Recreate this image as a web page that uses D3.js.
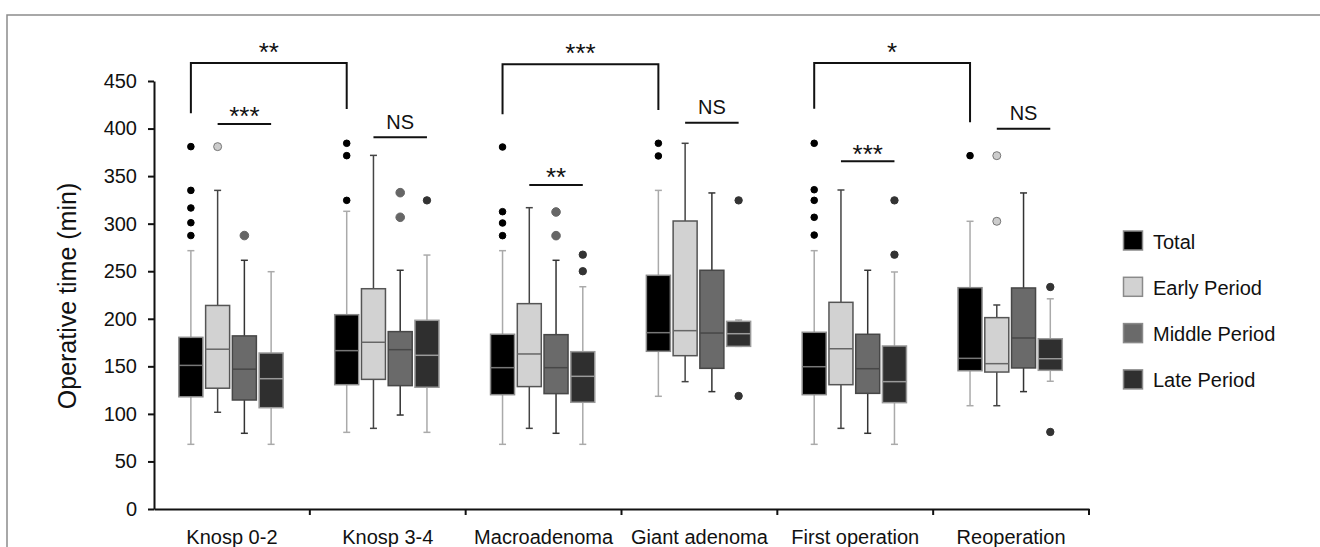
<!DOCTYPE html>
<html>
<head>
<meta charset="utf-8">
<script src="https://cdn.jsdelivr.net/npm/d3@7"></script>
<style>
  body { margin: 0; background: #fff; }
  text { font-family: "Liberation Sans", Arial, sans-serif; fill: #111; }
</style>
</head>
<body>
<div id="chart"></div>
<script>
var categories = ["Knosp 0-2", "Knosp 3-4", "Macroadenoma", "Giant adenoma", "First operation", "Reoperation"];
var series = ["Total", "Early Period", "Middle Period", "Late Period"];
var yTicks = [0, 50, 100, 150, 200, 250, 300, 350, 400, 450];

// rows = categories, columns = series
var whiskerLow = [
    [68, 101.7, 79.6, 68],
    [80.6, 84.8, 98.8, 80.6],
    [68, 84.8, 79.6, 68],
    [118.5, 133.9, 123.4, 171],
    [68, 84.8, 79.6, 68],
    [108.6, 108.6, 123.4, 134.3]
];
var q1 = [
    [118, 127, 114.6, 106.5],
    [130.7, 136.3, 129.7, 128],
    [120.2, 128.7, 121.3, 112.2],
    [165.8, 161.2, 147.9, 171],
    [120.2, 130.7, 121.6, 111.8],
    [145.4, 144, 148.3, 145.8]
];
var median = [
    [151, 168, 147, 137],
    [166.5, 175.3, 167.5, 161.6],
    [148.6, 163, 148.6, 139.5],
    [185.4, 187.5, 185, 184.3],
    [149.6, 168.5, 147.5, 133.9],
    [158.4, 152.8, 179.8, 158]
];
var q3 = [
    [180.5, 214, 182, 164],
    [204.3, 231.6, 186.5, 198.4],
    [183.7, 215.9, 183.3, 165.4],
    [245.7, 302.8, 251, 197.3],
    [185.8, 217.3, 183.7, 171.4],
    [232.7, 201.2, 232.4, 179]
];
var whiskerHigh = [
    [271.6, 335, 261.5, 249.5],
    [313, 371.8, 251, 267],
    [271.6, 316.8, 261.5, 233.7],
    [335, 384.5, 332.3, 198.7],
    [271.6, 335.4, 251, 249.2],
    [302.5, 214.5, 332.3, 221]
];
var outliers = [
    [[381, 335, 316.5, 301, 287.5], [381], [287.5], []],
    [[384.5, 371.5, 324.5], [], [332.6, 306.7], [324.5]],
    [[380.6, 312.6, 300.7, 287.4], [], [312.3, 287.4], [267.4, 250]],
    [[384.5, 371.2], [], [], [324.5, 118.8]],
    [[384.5, 335.7, 324.5, 306.7, 288], [], [], [324.5, 267.4]],
    [[371.5], [371.5, 302.5], [], [233.4, 81]]
];

// significance marks, levels in minutes
var brackets = [
    {from: "Knosp 0-2", to: "Knosp 3-4", label: "**", top: 469, leftEnd: 416, rightEnd: 420.6},
    {from: "Macroadenoma", to: "Giant adenoma", label: "***", top: 467.6, leftEnd: 415, rightEnd: 419.5},
    {from: "First operation", to: "Reoperation", label: "*", top: 469, leftEnd: 420.9, rightEnd: 406.6}
];
var pairLines = [
    {cat: "Knosp 0-2", label: "***", level: 404.8},
    {cat: "Knosp 3-4", label: "NS", level: 390.8},
    {cat: "Macroadenoma", label: "**", level: 340.7},
    {cat: "Giant adenoma", label: "NS", level: 406.1},
    {cat: "First operation", label: "***", level: 365.6},
    {cat: "Reoperation", label: "NS", level: 399.9}
];

var fills = ["#000000", "#d2d2d2", "#6a6a6a", "#2f2f2f"];
var strokes = ["#8a8a8a", "#555555", "#474747", "#9a9a9a"];
var medianColors = ["#777777", "#666666", "#474747", "#9a9a9a"];
var whiskerColors = ["#aaaaaa", "#444444", "#333333", "#aaaaaa"];
var dotFills = ["#000000", "#cccccc", "#666666", "#333333"];
var dotStrokes = ["#000000", "#777777", "#666666", "#333333"];
var dotR = [3.3, 4, 4.3, 3.7];

var width = 1320, height = 547;
var margin = {left: 154, top: 81, right: 231, bottom: 38};

var svg = d3.select("#chart")
    .append("svg")
    .attr("width", width)
    .attr("height", height);

// figure frame
svg.append("rect")
    .attr("x", 7).attr("y", 15)
    .attr("width", 1400).attr("height", 700)
    .attr("fill", "none")
    .attr("stroke", "#8c8c8c")
    .attr("stroke-width", 1.5);

var x = d3.scaleBand()
    .domain(categories)
    .range([margin.left, width - margin.right])
    .padding(0);

var xs = d3.scaleBand()
    .domain(series)
    .range([23.5, 130.5]);

var y = d3.scaleLinear()
    .domain([0, 450])
    .range([height - margin.bottom, margin.top]);

var boxW = 24, capW = 7;

function cx(ci, si) {
    return x(categories[ci]) + xs(series[si]) + xs.bandwidth() / 2;
}

// Y axis
var yAxis = svg.append("g")
    .attr("transform", "translate(" + margin.left + ",0)")
    .call(d3.axisLeft(y).tickValues(yTicks).tickSize(6).tickSizeOuter(0).tickPadding(11));
yAxis.selectAll("path, line").attr("stroke", "#111").attr("stroke-width", 2);
yAxis.selectAll("text").style("font-size", "20px").attr("fill", "#111");

// X axis
var xAxis = svg.append("g")
    .attr("transform", "translate(0," + y(0) + ")")
    .call(d3.axisBottom(x).tickSize(0).tickSizeOuter(0).tickPadding(21));
xAxis.select(".domain").attr("stroke", "#111").attr("stroke-width", 2);
xAxis.selectAll("text").style("font-size", "20px").attr("fill", "#111");

svg.append("g").selectAll("line")
    .data(categories.slice(1).map(function (c) { return x(c); }).concat([x(categories[categories.length - 1]) + x.bandwidth()]))
    .enter().append("line")
    .attr("x1", function (d) { return d; })
    .attr("x2", function (d) { return d; })
    .attr("y1", y(0))
    .attr("y2", y(0) + 6)
    .attr("stroke", "#111")
    .attr("stroke-width", 2);

// Y title
svg.append("text")
    .attr("transform", "rotate(-90)")
    .attr("x", -296)
    .attr("y", 76)
    .attr("text-anchor", "middle")
    .style("font-size", "25px")
    .text("Operative time (min)");

// boxes
var boxData = [];
categories.forEach(function (c, ci) {
    series.forEach(function (s, si) {
        boxData.push({ci: ci, si: si});
    });
});

var g = svg.append("g");
boxData.forEach(function (d) {
    var ci = d.ci, si = d.si;
    var c = cx(ci, si);
    var bg = g.append("g");
    // whiskers
    [[whiskerHigh[ci][si], q3[ci][si]], [whiskerLow[ci][si], q1[ci][si]]].forEach(function (w) {
        bg.append("line")
            .attr("x1", c).attr("x2", c)
            .attr("y1", y(w[0])).attr("y2", y(w[1]))
            .attr("stroke", whiskerColors[si]).attr("stroke-width", 1.5);
        bg.append("line")
            .attr("x1", c - capW / 2).attr("x2", c + capW / 2)
            .attr("y1", y(w[0])).attr("y2", y(w[0]))
            .attr("stroke", whiskerColors[si]).attr("stroke-width", 1.5);
    });
    bg.append("rect")
        .attr("x", c - boxW / 2)
        .attr("y", y(q3[ci][si]))
        .attr("width", boxW)
        .attr("height", y(q1[ci][si]) - y(q3[ci][si]))
        .attr("fill", fills[si])
        .attr("stroke", strokes[si])
        .attr("stroke-width", 1.5);
    bg.append("line")
        .attr("x1", c - boxW / 2).attr("x2", c + boxW / 2)
        .attr("y1", y(median[ci][si])).attr("y2", y(median[ci][si]))
        .attr("stroke", medianColors[si]).attr("stroke-width", 1.5);
    bg.selectAll("circle")
        .data(outliers[ci][si])
        .enter().append("circle")
        .attr("cx", c)
        .attr("cy", function (v) { return y(v); })
        .attr("r", dotR[si])
        .attr("fill", dotFills[si])
        .attr("stroke", dotStrokes[si])
        .attr("stroke-width", 1);
});

// brackets between groups
brackets.forEach(function (b) {
    var x1 = cx(categories.indexOf(b.from), 0);
    var x2 = cx(categories.indexOf(b.to), 0);
    svg.append("path")
        .attr("d", "M" + x1 + "," + y(b.leftEnd) + "V" + y(b.top) + "H" + x2 + "V" + y(b.rightEnd))
        .attr("fill", "none")
        .attr("stroke", "#111")
        .attr("stroke-width", 2);
    svg.append("text")
        .attr("x", (x1 + x2) / 2)
        .attr("y", y(b.top) - 2)
        .attr("text-anchor", "middle")
        .style("font-size", "26px")
        .text(b.label);
});

// lines across periods
pairLines.forEach(function (p) {
    var ci = categories.indexOf(p.cat);
    var x1 = cx(ci, 1), x2 = cx(ci, 3);
    svg.append("line")
        .attr("x1", x1).attr("x2", x2)
        .attr("y1", y(p.level)).attr("y2", y(p.level))
        .attr("stroke", "#111")
        .attr("stroke-width", 2);
    var isNS = p.label === "NS";
    svg.append("text")
        .attr("x", (x1 + x2) / 2)
        .attr("y", y(p.level) + (isNS ? -8.5 : 1.5))
        .attr("text-anchor", "middle")
        .style("font-size", isNS ? "20px" : "26px")
        .text(p.label);
});

// legend
var legend = svg.append("g")
    .selectAll("g")
    .data(series)
    .enter().append("g")
    .attr("transform", function (d, i) { return "translate(1123.5," + (231 + i * 46.3) + ")"; });
legend.append("rect")
    .attr("width", 19).attr("height", 19)
    .attr("fill", function (d, i) { return fills[i]; })
    .attr("stroke", "#8a8a8a")
    .attr("stroke-width", 1.5);
legend.append("text")
    .attr("x", 29.5)
    .attr("y", 17.5)
    .style("font-size", "20px")
    .text(function (d) { return d; });
</script>
</body>
</html>
